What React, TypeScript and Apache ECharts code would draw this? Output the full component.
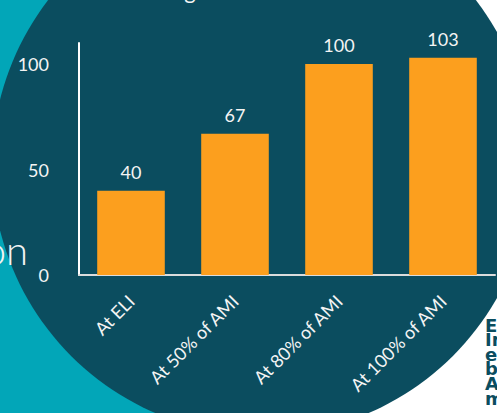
import React, { useEffect, useRef } from "react";
import * as echarts from "echarts";

const categories = ["At ELI", "At 50% of AMI", "At 80% of AMI", "At 100% of AMI"];
const values = [40, 67, 100, 103];
const yTicks = { min: 0, max: 110, interval: 50 };
const sideFragments = ["E", "In", "ex", "b", "A", "m"];

const DARK = "#0b4d5f";
const LIGHT = "#02a6b8";
const ORANGE = "#fc9f1e";
const WHITE = "#f4f4f4";

export default function App() {
  const ref = useRef<HTMLDivElement>(null);
  useEffect(() => {
    document.body.style.margin = "0";
    const chart = echarts.init(ref.current!, null, { renderer: "svg" });
    const sideTexts = sideFragments.map((t, i) => ({
      type: "text",
      x: 485,
      y: 316 + i * 14.6,
      z: -1,
      style: {
        text: t,
        fill: DARK,
        font: "bold 18px 'DejaVu Sans'",
        verticalAlign: "top",
      },
    }));
    chart.setOption({
      animation: false,
      backgroundColor: "#ffffff",
      graphic: [
        { type: "circle", z: -10, shape: { cx: -150, cy: 250, r: 380 }, style: { fill: LIGHT } },
        { type: "circle", z: -9, shape: { cx: 262, cy: 165, r: 270 }, style: { fill: DARK } },
        {
          type: "text",
          x: 28,
          y: 270,
          z: -1,
          style: {
            text: "on",
            fill: WHITE,
            font: "300 40px Lato",
            align: "right",
            verticalAlign: "bottom",
          },
        },
        {
          type: "text",
          x: 190,
          y: 1,
          z: -1,
          style: {
            text: "g",
            fill: WHITE,
            font: "22px Lato",
            align: "center",
            verticalAlign: "bottom",
          },
        },
        ...sideTexts,
      ],
      grid: { left: 79, right: 2, top: 43, bottom: 138, containLabel: false },
      xAxis: {
        type: "category",
        data: categories,
        axisLine: { show: true, lineStyle: { color: "#dcdcdc", width: 2 } },
        axisTick: { show: false },
        axisLabel: { rotate: 45, margin: 23, color: WHITE, fontFamily: "Lato", fontSize: 18, interval: 0 },
      },
      yAxis: {
        type: "value",
        min: yTicks.min,
        max: yTicks.max,
        interval: yTicks.interval,
        splitLine: { show: false },
        axisLine: { show: true, lineStyle: { color: "#ffffff", width: 2 } },
        axisTick: { show: false },
        axisLabel: {
          margin: 30,
          color: WHITE,
          fontFamily: "Lato",
          fontSize: 18,
          showMaxLabel: false,
        },
      },
      series: [
        {
          type: "bar",
          data: values,
          barCategoryGap: "35%",
          itemStyle: { color: ORANGE },
          label: {
            show: true,
            position: "top",
            distance: 10,
            color: WHITE,
            fontFamily: "Lato",
            fontSize: 18,
          },
        },
      ],
    });
    return () => chart.dispose();
  }, []);
  return <div ref={ref} style={{ position: "fixed", left: 0, top: 0, width: 497, height: 413 }} />;
}
